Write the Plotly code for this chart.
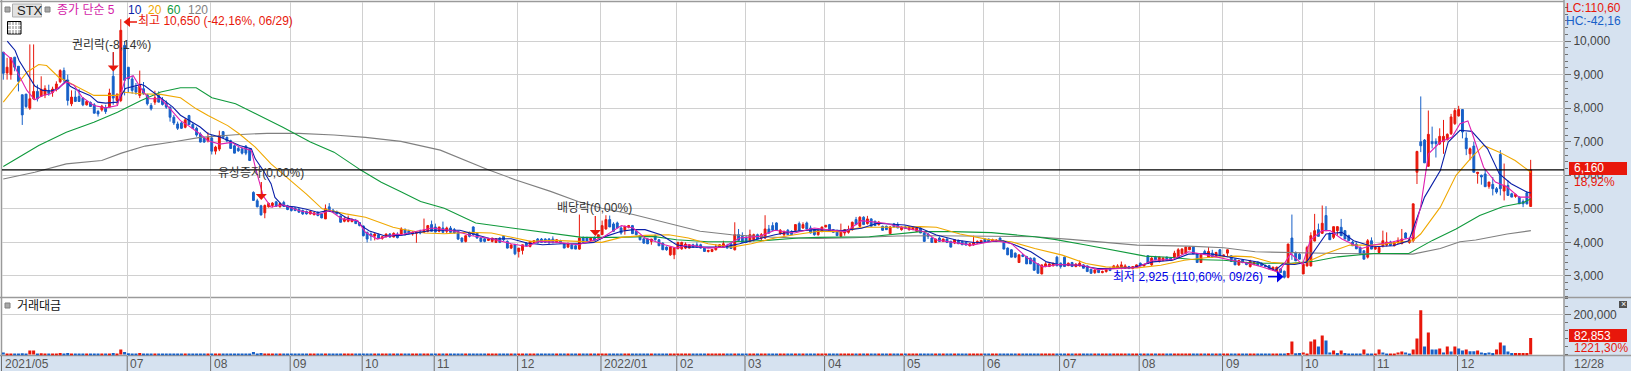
import plotly.graph_objects as go

W, H = 1631, 371
TICKER = "STX"
month_starts = [33,55,76,95,114,136,158,178,196,217,238,259,279,300,322,343,362,384]
month_labels = ["07","08","09","10","11","12","2022/01","02","03","04","05","06","07","08","09","10","11","12"]

opens = [
9670,9050,9000,9520,9250,8400,8420,8000,8280,8500,
8350,8400,8530,8470,8570,8790,9120,8840,8130,8330,
8350,8300,8100,8170,8100,7900,7950,8020,8030,8950,
8230,8230,9870,9220,8870,8630,8380,8580,8400,8080,
8180,8380,8230,8150,8030,7730,7530,7560,7430,7780,
7510,7400,7230,7100,7030,7110,6720,6780,7300,7130,
7030,6880,6800,6790,6870,6790,5490,5240,5090,4880,
5060,5100,5210,5060,5190,5090,5050,5020,4990,4950,
4920,4850,4830,4900,4850,4700,5060,4960,4900,4790,
4630,4630,4620,4640,4590,4490,4300,4250,4190,4230,4120,4170,4250,4160,
4240,4250,4380,4350,4250,4270,4320,4300,4330,4530,
4460,4330,4430,4330,4430,4380,4330,4130,4030,4280,
4460,4280,4130,4110,4060,4030,4000,4130,4180,4030,3830,
3930,3730,3760,3980,3880,4000,4100,4100,4100,4100,
4100,4000,4050,3960,3860,3930,3900,3800,4130,4140,
4060,4150,4130,4230,4400,4680,4550,4580,4430,4360,4450,
4500,4330,4200,4110,4100,4030,4200,4080,3980,3860,
3630,3630,3810,3810,3830,3830,3930,3930,3930,3830,3730,
3730,3780,3860,3860,3900,3960,3780,4230,4180,4130,
4030,4080,4230,4130,4130,4400,4500,4580,4260,4230,
4360,4330,4360,4560,4430,4580,4430,4380,4230,4330,4460,
4530,4380,4350,4180,4280,4300,4380,4680,4480,4750,
4560,4700,4630,4530,4480,4480,4260,4550,4530,4380,4460,
4380,4380,4330,4430,4280,4250,4130,4000,4130,4030,
4100,4030,3980,4060,4030,4000,3900,3930,3980,4000,
4100,4100,4030,4030,4130,4000,3830,3780,3680,3400,3630,
3580,3530,3530,3360,3060,3280,3280,3300,3560,3380,
3560,3310,3400,3280,3300,3330,3300,3200,3100,3200,3100,
3130,3230,3230,3230,3230,3230,3280,3220,3260,3380,3300,
3600,3330,3560,3430,3460,3560,3530,3560,3560,3660,
3680,3780,3860,3660,3400,3730,3560,3680,3580,3780,3600,
3680,3600,3500,3330,3480,3400,3280,3340,3410,3380,3310,
3310,3180,3140,3210,3140,2960,4130,3700,3650,3060,
3300,3300,4040,4380,4270,4800,4270,4150,4350,4450,
4350,4200,4010,3950,3850,3750,3560,4050,3800,3700,
3900,3920,4010,3900,3980,3960,4280,4000,4050,6090,
7000,7050,6270,7010,7010,6940,7000,7060,7240,7540,
7770,7960,7110,6640,6870,6050,6000,6040,5670,5730,5600,
6620,5530,5700,5450,5370,5350,5220,5480,5070]

highs = [
9670,9500,9500,9520,9250,8400,8420,9900,9900,8700,
8950,8680,8700,8640,8800,9160,9210,9000,8530,8530,
8570,8330,8220,8200,8150,7950,8100,8100,8580,9660,
8450,10650,10000,9220,8970,8750,9120,8780,8430,8150,
8520,8500,8330,8230,8050,7800,7600,7600,7700,7800,
7550,7450,7280,7130,7280,7200,6880,7330,7320,7160,
7060,6920,6850,6800,6900,6800,5520,5300,5120,5130,
5190,5200,5240,5190,5240,5120,5070,5050,5020,4980,
4950,4950,4900,4920,4870,5130,5170,5000,4950,4800,
4750,4800,4720,4700,4600,4500,4320,4300,4280,4260,4180,4260,4280,4300,
4300,4450,4420,4380,4330,4320,4380,4710,4520,4650,
4560,4460,4620,4470,4490,4430,4340,4150,4200,4320,
4480,4300,4150,4130,4120,4130,4110,4150,4200,4060,3950,
3960,3830,3930,4000,4030,4060,4130,4130,4120,4130,
4180,4100,4080,3970,4000,3950,3920,4830,4180,4170,
4130,4180,4230,4650,4810,4800,4600,4620,4480,4500,4520,
4520,4350,4220,4120,4120,4100,4230,4100,4000,3880,
3880,3850,4020,4020,4000,3950,3960,4000,3960,3850,3780,
3800,3950,3950,4050,3960,3990,4600,4400,4300,4200,
4380,4260,4260,4280,4810,4520,4600,4600,4400,4350,
4400,4360,4540,4620,4600,4620,4500,4400,4350,4460,4520,
4550,4400,4380,4560,4400,4500,4620,4760,4780,4780,
4790,4720,4650,4640,4500,4500,4490,4580,4600,4480,4500,
4490,4480,4450,4450,4310,4280,4150,4110,4180,4110,
4120,4050,4080,4080,4050,4010,3980,4200,4060,4060,
4120,4110,4110,4100,4150,4020,3850,3800,3700,3630,3650,
3600,3550,3550,3380,3340,3410,3370,3390,3600,3400,
3580,3400,3420,3380,3460,3350,3310,3210,3190,3210,3160,
3230,3250,3330,3350,3430,3350,3300,3290,3340,3400,3360,
3620,3560,3600,3580,3570,3580,3550,3750,3830,3830,
3870,3880,3880,3680,3640,3780,3860,3780,3720,3800,3640,
3790,3620,3520,3480,3500,3420,3480,3440,3430,3400,3340,
3330,3280,3280,3230,3160,3960,4830,3730,3680,3370,
3900,4300,4850,4560,5100,5080,4300,4470,4480,4700,
4370,4230,4050,4000,3880,3770,4100,4150,3880,3850,
4350,4300,4050,4020,4150,4400,4300,4110,5150,6730,
8350,7080,7930,7450,7100,7400,7650,7250,7830,8000,
8070,7960,7280,6830,7000,6100,6020,6180,5800,5950,5650,
6750,6350,5850,5480,5450,5370,5280,5520,6460]

lows = [
8850,8850,8850,9100,8500,7500,8000,7950,8250,8200,
8350,8300,8370,8340,8500,8750,8780,8080,8060,8200,
8200,8060,8080,8050,7850,7750,7900,7830,8030,8100,
8100,8180,8380,8480,8430,8400,8300,8400,8080,7930,
8100,8180,8080,7980,7600,7500,7350,7380,7400,7500,
7380,7150,6980,6970,6980,6620,6620,6720,7130,6980,
6800,6660,6700,6620,6600,6440,5240,5050,4800,4720,
5040,5040,5060,5040,5060,4960,4920,4930,4880,4820,
4830,4830,4800,4780,4720,4700,4950,4880,4830,4590,
4600,4600,4600,4550,4480,4180,4000,4050,4060,4100,4080,4150,4140,4150,
4120,4220,4200,4230,4200,3990,4240,4280,4300,4330,
4300,4300,4290,4280,4290,4270,4070,3990,4000,4150,
4200,4110,4000,4000,4040,4000,3980,3980,4040,3820,3800,
3620,3550,3640,3880,3850,3980,3980,4000,4000,3980,
3980,3980,3980,3830,3830,3800,3800,3780,4000,4030,
4040,4060,4100,4220,4380,4460,4330,4430,4230,4230,4420,
4260,4210,4060,3960,3950,3930,4050,3900,3780,3750,
3600,3500,3800,3780,3800,3820,3840,3840,3820,3730,3700,
3710,3760,3840,3850,3820,3820,3760,4060,4000,4000,
4000,4030,4100,4050,4100,4250,4360,4360,4230,4180,
4230,4220,4340,4360,4400,4400,4270,4200,4200,4300,4450,
4350,4290,4200,4160,4200,4260,4350,4530,4460,4530,
4530,4480,4500,4500,4350,4370,4250,4460,4430,4350,4400,
4350,4370,4310,4280,4030,4100,4000,3980,4030,4010,
3980,3850,3950,3950,3920,3910,3880,3900,3960,3990,
4030,4030,4020,4010,4030,3800,3620,3560,3530,3390,3560,
3360,3360,3160,3080,3050,3260,3270,3290,3300,3220,
3280,3290,3280,3260,3280,3230,3130,3060,3060,3090,3080,
3100,3150,3210,3220,3200,3210,3220,3200,3250,3300,3280,
3370,3300,3480,3400,3440,3460,3460,3540,3540,3640,
3650,3770,3660,3400,3390,3660,3550,3560,3560,3600,3560,
3560,3430,3330,3300,3380,3320,3250,3320,3310,3300,3260,
3200,3160,3100,3090,2925,2930,3480,3450,3500,3060,
3280,3280,4030,4180,4250,4350,4080,4100,4200,4200,
4100,4050,3900,3800,3650,3500,3520,3800,3780,3680,
3850,3880,3890,3880,3960,3950,4100,3960,4000,5740,
6690,6370,6250,6800,6530,6900,6640,7040,7200,7500,
7750,7100,6600,6450,6090,5750,5720,5660,5600,5400,5450,
5400,5250,5400,5350,5330,5150,5050,5130,5070]

closes = [
9040,9220,9500,9220,8800,7800,8050,8280,8500,8280,
8560,8580,8440,8570,8720,9120,8840,8230,8330,8200,
8200,8100,8200,8050,7850,7830,8060,7900,8450,8300,
8400,10320,8830,8870,8530,8480,8680,8430,8130,7980,
8310,8180,8110,8030,7730,7560,7400,7400,7650,7510,
7400,7200,6990,6990,7130,6720,6840,7180,7130,7030,
6800,6660,6730,6660,6660,6440,5250,5060,4820,5100,
5160,5170,5080,5160,5080,4980,4950,4950,4900,4850,
4850,4920,4880,4800,4730,5000,4970,4900,4850,4600,
4700,4720,4680,4560,4500,4200,4100,4190,4250,4120,4170,4250,4160,4270,
4140,4400,4280,4270,4300,4310,4280,4360,4500,4330,
4310,4460,4300,4430,4300,4280,4100,4030,4200,4180,
4230,4130,4030,4030,4100,4130,4110,4000,4080,3830,3920,
3660,3830,3930,3900,4030,4050,3980,4000,4000,3980,
3990,4080,3980,3830,3960,3810,3800,4130,4000,4030,
4130,4060,4230,4500,4680,4460,4330,4430,4280,4480,4500,
4260,4230,4080,3980,3960,4100,4080,3900,3780,3780,
3860,3830,4000,4000,3950,3930,3860,3860,3830,3730,3760,
3790,3860,3930,3960,3830,3820,4230,4060,4000,4000,
4230,4230,4100,4230,4400,4280,4360,4360,4360,4330,
4230,4230,4530,4360,4530,4400,4280,4230,4350,4460,4510,
4350,4300,4200,4350,4380,4380,4600,4530,4750,4530,
4700,4480,4500,4600,4360,4380,4460,4460,4430,4460,4420,
4460,4460,4430,4280,4030,4180,4000,4100,4030,4100,
4000,3860,4080,3960,3930,3920,3960,4000,4030,4060,
4030,4030,4080,4060,4030,3800,3630,3560,3560,3630,3580,
3360,3360,3170,3080,3330,3360,3360,3380,3300,3280,
3280,3380,3280,3350,3380,3230,3130,3080,3180,3100,3130,
3200,3160,3300,3300,3330,3300,3220,3280,3330,3300,3340,
3370,3530,3480,3560,3530,3460,3460,3680,3780,3800,
3860,3860,3660,3400,3630,3660,3730,3560,3700,3600,3620,
3780,3430,3330,3460,3400,3340,3440,3410,3310,3310,3280,
3210,3260,3260,3100,2960,3950,3700,3450,3500,3350,
3850,4200,4350,4180,4570,4350,4080,4470,4470,4200,
4100,4050,3900,3810,3650,3500,4050,3800,3860,3850,
4050,4010,3910,4000,4060,4100,4130,4080,5150,6710,
6880,6370,7220,6940,6940,7160,7160,7220,7740,7930,
7960,7290,6790,6790,6090,6090,5950,5660,5800,5600,5500,
5600,5700,5400,5350,5430,5150,5150,5150,6160]

turnover = [
10000,2500,2000,2500,2000,6000,2500,20000,20000,3000,
6000,2000,2500,2000,2500,8000,2500,8000,2500,2000,
2000,2500,2000,2500,2000,2500,2000,2500,3000,8000,
3000,25000,13000,6000,2500,2000,8000,2500,2000,2500,
2500,2000,2500,2000,2500,2000,2000,2500,2000,2500,
2000,2500,2000,2500,2000,2500,2000,2500,2000,2000,
2500,2000,2500,2000,2500,2000,13000,2500,8000,2500,
2000,2500,2000,2000,2500,2000,2500,2000,2000,2500,
2000,2500,2000,2500,2000,2000,2500,2000,2500,2000,
2000,2500,2000,2500,2000,2500,2000,2000,2500,2000,
2500,2000,2500,2000,2000,2500,2000,2500,2000,2500,
2000,2000,2500,2000,2500,2000,2500,2000,2000,2500,
2000,2500,2000,2500,2000,2000,2500,2000,2500,2000,
2500,2000,2000,2500,2000,2500,2000,2500,2000,2000,
2500,2000,2500,2000,2500,2000,2000,2500,2000,2500,
2000,2500,2000,2000,2500,2000,2500,2000,2500,2000,
2000,2500,2000,2500,2000,2500,2000,2000,2500,2000,
2500,2000,2500,2000,2000,2500,2000,2500,2000,2500,
2000,2000,2500,2000,2500,2000,2500,2000,2000,2500,
2000,2500,2000,2500,2000,2000,2500,2000,2500,2000,
2500,2000,2000,2500,2000,2500,2000,2500,2000,2000,
2500,2000,2500,2000,2500,2000,2000,2500,2000,2500,
2000,2500,2000,2000,2500,2000,2500,2000,2500,2000,
2000,2500,2000,2500,2000,2500,2000,2000,2500,2000,
2500,2000,2500,2000,2000,2500,2000,2500,2000,2500,
2000,2000,2500,2000,2500,2000,2500,2000,2000,2500,
2000,2500,2000,2500,2000,2000,2500,2000,2500,2000,
2500,2000,2000,2500,2000,2500,2000,2500,2000,2000,
2500,2000,2500,2000,2500,2000,2000,2500,2000,2500,
2000,2500,2000,2000,2500,2000,2500,2000,2500,2000,
2000,2500,2000,2500,2000,2500,2000,2000,2500,2000,
2500,2000,2500,2000,2000,2500,2000,2500,2000,2500,
3000,3000,2500,3000,4000,3000,3000,4000,3000,2500,
2000,2500,3000,2500,3000,4000,3000,3000,3000,
8000,65000,6000,8000,10000,4000,65000,75000,40000,95000,
70000,10000,20000,8000,20000,8000,4000,4000,4000,3000,
25000,5000,3000,3000,25000,10000,4000,3000,4000,10000,
15000,10000,4000,25000,80000,220000,40000,110000,25000,25000,
30000,10000,40000,15000,40000,30000,20000,25000,16000,16000,
20000,10000,8000,10000,8000,25000,60000,45000,15000,8000,
8000,8000,8000,8000,82853]

# colour of the last 65 turnover bars: R up, B down
turnover_tail_sign = list(
    "RRBBRRRRBR"
    "BBRBRBBBBB"
    "RBBRRBBRRR"
    "RBBRRRBRBB"
    "RBRBRBBRBB"
    "RBBBBRRBBB"
    "RRRRR")

ma5_days = [0,2,4,6,8,10,12,14,16,18,20,23,26,29,31,33,35,37,40,42,45,47,50,52,55,58,60,63,64,66,68,71,75,80,83,86,90,92,95,100,
101,105,109,115,119,124,129,133,136,141,146,152,157,160,163,168,171,174,179,183,187,192,196,201,206,
210,214,218,224,229,234,237,243,246,252,256,260,264,268,274,278,283,288,292,297,301,306,312,
317,320,324,327,330,332,335,337,340,345,348,353,358,360,362,365,368,370,372,373,376,379,382,385,388]
ma5_vals = [9670,9470,8970,8530,8250,8380,8430,8610,8780,8680,8330,8080,8010,8080,8880,8970,8580,8280,8280,8030,7630,7480,7230,7030,6930,6980,6840,6740,6240,5390,5050,5120,4950,4830,4950,4700,4650,4300,4100,4250,
4230,4330,4430,4330,4200,4110,3960,3880,4030,4000,3930,4130,4500,4430,4130,3930,3830,3930,3830,3860,4130,4180,4360,4280,4430,
4370,4320,4650,4570,4420,4320,4070,3970,3920,4050,3970,3550,3270,3340,3320,3190,3210,3250,3470,3490,3720,3620,3470,
3360,3260,3110,3670,3340,4070,4350,4350,4100,3820,3920,4020,4150,5050,6640,6990,7140,7540,7620,7290,6240,5800,5650,5350,5350]

ma10_days = [1,3,4,6,8,10,12,14,16,17,19,22,24,26,29,31,33,35,36,39,41,43,45,47,50,52,55,58,60,63,64,66,68,69,71,74,77,80,82,85,87,90,91,93,97,
101,105,109,116,120,124,129,133,137,142,146,150,153,157,160,163,167,171,174,179,183,187,191,196,201,206,
213,218,222,229,233,237,242,247,254,257,261,265,268,273,278,282,287,292,297,301,306,312,
314,319,323,325,328,331,336,340,343,348,353,357,361,365,367,370,373,377,380,383,387,388]
ma10_vals = [10000,9720,9420,9020,8660,8530,8510,8580,8830,8650,8530,8380,8180,8150,8180,8590,8660,8710,8660,8390,8230,8040,7790,7640,7440,7240,7140,6990,6890,6790,6490,6150,5750,5340,5090,5060,4990,4890,4940,4890,4740,4640,4490,4340,4190,
4210,4280,4360,4360,4230,4100,4110,3980,3930,3960,3960,4000,4180,4330,4380,4380,4230,3930,3860,3860,3860,3960,4080,4230,4330,4380,
4350,4420,4570,4520,4420,4220,4070,3990,4050,3920,3720,3420,3340,3320,3220,3220,3250,3420,3470,3650,3670,3550,
3515,3410,3160,3360,3340,3410,4250,4300,4050,3870,3900,4050,5350,6140,6990,7340,7310,6790,6040,5750,5500,5470]

ma20_days = [0,3,6,9,11,14,18,23,29,30,35,40,45,49,52,57,60,64,68,72,77,81,87,92,99,
101,107,112,118,124,130,134,140,146,152,157,163,169,174,179,185,190,196,201,207,
213,218,226,233,237,243,250,256,262,269,275,280,288,294,300,306,313,
317,322,327,331,336,342,348,358,360,365,369,373,376,380,384,388]
ma20_vals = [8180,8630,9070,9300,9270,8930,8680,8380,8380,8480,8430,8410,8310,7980,7780,7480,7230,6840,6340,5940,5440,5000,4850,4750,4450,
4400,4280,4260,4300,4280,4130,4030,4060,4020,4000,4150,4210,4230,4130,3960,3860,3960,4130,4230,4330,
4320,4450,4450,4470,4450,4250,4090,4020,3820,3620,3370,3270,3240,3320,3470,3550,3590,
3570,3410,3360,3410,3670,3920,3920,4050,4250,5050,6000,6540,6890,6690,6440,6090]

ma60_days = [0,4,9,16,23,29,35,40,45,49,53,59,65,71,78,84,91,96,101,106,112,120,126,135,141,147,156,165,171,179,185,194,202,207,
220,227,233,241,251,262,267,275,284,290,297,302,310,318,327,333,339,348,357,363,369,375,381,386,388]
ma60_vals = [6260,6540,6890,7280,7580,7880,8230,8480,8610,8610,8310,8130,7780,7430,6990,6690,6140,5790,5510,5220,5020,4580,4480,4330,4230,4150,4150,4180,4080,4020,4020,4060,4130,4150,
4170,4250,4320,4320,4290,4170,4090,3920,3720,3590,3550,3490,3470,3380,3380,3440,3570,3670,3670,4060,4400,4800,5070,5180,5300]

ma120_days = [0,8,16,25,30,36,43,50,59,67,75,84,92,101,111,123,130,139,146,152,160,169,177,185,194,202,207,
216,227,237,251,262,271,279,288,301,310,318,327,339,358,365,370,374,382,388]
ma120_vals = [5890,6090,6340,6440,6660,6870,6990,7130,7210,7250,7250,7200,7130,7010,6750,6170,5870,5520,5220,5020,4830,4560,4330,4230,4160,4130,4120,
4140,4190,4200,4190,4170,4090,4020,3920,3890,3840,3720,3690,3670,3650,3820,4020,4070,4250,4350]

for name, arr in [("highs",highs),("lows",lows),("closes",closes),("turnover",turnover)]:
    if len(arr) != len(opens):
        raise SystemExit(f"{name} has {len(arr)} entries, opens has {len(opens)}")
for d, v in [(ma5_days,ma5_vals),(ma10_days,ma10_vals),(ma20_days,ma20_vals),(ma60_days,ma60_vals),(ma120_days,ma120_vals)]:
    if len(d) != len(v):
        raise SystemExit(f"MA node mismatch {len(d)} {len(v)} {d[:3]}")

RED, BLUE = "#E8170B", "#1760C8"
BAND = "#D6E2F0"
GRID = "#D0D0D0"
FRAME = "#9A9A9A"
FONT = "Liberation Sans, Noto Sans CJK KR, sans-serif"
STEP = 3.79            # pixels per trading day
FIRST = 3.3            # pixel of the first candle
LEFT, RIGHT = 2, 1564  # plot edges in pixels
NODE_SCALE = 3.937 / STEP  # MA nodes were read on a 3.937 px grid

days = list(range(len(closes)))
px = lambda x: x / W
py = lambda y: 1 - y / H
xrange_ = [(LEFT - FIRST) / STEP, (RIGHT - FIRST) / STEP]

head_n = len(turnover) - len(turnover_tail_sign)
bar_colors = [RED if c >= o else BLUE for o, c in zip(opens[:head_n], closes[:head_n])]
bar_colors += [RED if s == "R" else BLUE for s in turnover_tail_sign]

fig = go.Figure()
fig.add_trace(go.Candlestick(
    x=days, open=opens, high=highs, low=lows, close=closes, xaxis="x", yaxis="y",
    increasing=dict(line=dict(color=RED, width=1), fillcolor=RED),
    decreasing=dict(line=dict(color=BLUE, width=1), fillcolor=BLUE),
    whiskerwidth=0, showlegend=False, hoverinfo="skip"))
for d, v, c in [(ma120_days, ma120_vals, "#808080"), (ma60_days, ma60_vals, "#109A3C"),
                (ma20_days, ma20_vals, "#F0A800"), (ma10_days, ma10_vals, "#0A1FA8"),
                (ma5_days, ma5_vals, "#E020B0")]:
    fig.add_trace(go.Scatter(x=[k * NODE_SCALE for k in d], y=v, mode="lines", xaxis="x", yaxis="y",
                             line=dict(color=c, width=1.1), showlegend=False, hoverinfo="skip"))
fig.add_trace(go.Bar(x=days, y=turnover, xaxis="x2", yaxis="y2", showlegend=False, hoverinfo="skip",
                     marker=dict(color=bar_colors, line=dict(width=0))))

shapes = []
def rect(x0, y0, x1, y1, fill, line=None, layer="below", lw=1):
    shapes.append(dict(type="rect", xref="paper", yref="paper", x0=px(x0), x1=px(x1), y0=py(y1), y1=py(y0),
                       fillcolor=fill, line=dict(color=line or fill, width=lw if line else 0), layer=layer))
def seg(x0, y0, x1, y1, color, lw=1, layer="below"):
    shapes.append(dict(type="line", xref="paper", yref="paper", x0=px(x0), x1=px(x1), y0=py(y0), y1=py(y1),
                       line=dict(color=color, width=lw), layer=layer))
def tri(points, color):
    path = "M " + " L ".join(f"{px(a)},{py(b)}" for a, b in points) + " Z"
    shapes.append(dict(type="path", xref="paper", yref="paper", path=path, fillcolor=color,
                       line=dict(color=color, width=0), layer="above"))

rect(RIGHT, 0, W, H, BAND)
rect(0, 355.5, W, H, BAND)
seg(0, 1.5, RIGHT, 1.5, FRAME, 1.5)
seg(1.5, 0, 1.5, 355, FRAME, 1.5)
seg(RIGHT, 0, RIGHT, 356, FRAME, 1.5)
seg(0, 297.5, W, 297.5, FRAME, 1.5)
seg(0, 355.5, W, 355.5, FRAME, 1.5)
seg(RIGHT, 356, RIGHT, H, "#707070", 1)
seg(1.5, 356, 1.5, H, "#707070", 1)
for m in month_starts:
    shapes.append(dict(type="line", xref="x", yref="paper", x0=m - 0.3, x1=m - 0.3, y0=0, y1=py(356),
                       line=dict(color="#707070", width=1), layer="below"))
shapes.append(dict(type="line", xref="paper", yref="y", x0=px(LEFT), x1=px(RIGHT), y0=closes[-1], y1=closes[-1],
                   line=dict(color="#000000", width=1.2), layer="above"))

# price flags
rect(1569, 162, 1627, 175, RED, layer="above")
rect(1569, 329, 1627, 342, RED, layer="above")
rect(1619, 301, 1627, 308, "#505050", layer="above")
# header glyphs
rect(5, 7, 10, 12, "#A8A8A8", "#808080")
rect(45, 7, 50, 12, "#A8A8A8", "#808080")
rect(12.5, 4, 41.5, 17, "#E2E2E2", "#B0B0B0")
rect(7.5, 21.5, 21, 34, "#C0C0C0", "#000000", layer="above")
for yy in (25.5, 29.5):
    seg(8, yy, 20.5, yy, "#FFFFFF", 1, "above")
for xx in (11.5, 14.5, 17.5):
    seg(xx, 22, xx, 33.5, "#FFFFFF", 1, "above")
rect(5, 303, 10, 308, "#A8A8A8", "#808080")

# event arrows
for cx, y0, y1, y2 in [(113.3, 52, 65.5, 71.5), (261.3, 182, 194, 200), (595.3, 216, 230, 236)]:
    seg(cx, y0, cx, y1, RED, 1.2, "above")
    tri([(cx - 5.5, y1), (cx + 5.5, y1), (cx, y2)], RED)
seg(130, 22, 137, 22, RED, 1.5, "above")
tri([(123.5, 22), (130, 17), (130, 27)], RED)
seg(1268, 276.7, 1277, 276.7, "#0000E8", 1.5, "above")
tri([(1283.5, 276.7), (1277, 271), (1277, 282.5)], "#0000E8")

ann = []
def text(x, y, s, color, size=12, anchor="left"):
    ann.append(dict(text=s, xref="paper", yref="paper", x=px(x), y=py(y), xanchor=anchor, yanchor="middle",
                    showarrow=False, font=dict(family=FONT, size=size, color=color), borderpad=0))
text(15.5, 10.5, TICKER, "#222222", 13)
text(56, 10.5, "종가 단순 5", "#D41DA8")
text(127, 10.5, "10", "#0A1FA8")
text(147, 10.5, "20", "#F0A800")
text(166, 10.5, "60", "#109A3C")
text(187, 10.5, "120", "#808080")
text(137, 21.5, "최고 10,650 (-42,16%, 06/29)", RED)
text(71, 45, "권리락(-8,14%)", "#333333")
text(217, 173, "유상증자(0,00%)", "#333333")
text(556, 208, "배당락(0,00%)", "#333333")
text(1112, 276.5, "최저 2,925 (110,60%, 09/26)", "#0000E8")
text(16, 306, "거래대금", "#111111")
text(1565, 8, "LC:110,60", RED)
text(1565, 21, "HC:-42,16", BLUE)
text(1573, 168, f"{closes[-1]:,}", "#FFFFFF")
text(1573, 181.5, "18,92%", RED)
text(1573, 335.5, f"{turnover[-1]:,}", "#FFFFFF")
text(1573, 348, "1221,30%", RED)
text(1623, 304.3, "×", "#FFFFFF", 9, "center")
text(3.5, 363.5, "2021/05", "#555555")
text(1573, 363.5, "12/28", "#555555")
for m, lab in zip(month_starts, month_labels):
    ann.append(dict(text=lab, xref="x", yref="paper", x=m - 0.3, y=py(363.5), xanchor="left", yanchor="middle",
                    xshift=1, showarrow=False, font=dict(family=FONT, size=12, color="#555555")))

tick_font = dict(family=FONT, size=12, color="#444444")
grid_x = dict(tickmode="array", tickvals=[m - 0.3 for m in month_starts], ticktext=[""] * len(month_starts),
              showgrid=True, gridcolor=GRID, gridwidth=1, zeroline=False, showline=False, ticks="",
              range=xrange_, domain=[px(LEFT), px(RIGHT)], showticklabels=False)
fig.update_layout(
    width=W, height=H, margin=dict(l=0, r=0, t=0, b=0), autosize=False,
    paper_bgcolor="#FFFFFF", plot_bgcolor="#FFFFFF", showlegend=False, boxgap=0.3, bargap=0.2,
    shapes=shapes, annotations=ann, hovermode=False,
    xaxis=dict(anchor="y", rangeslider=dict(visible=False), **grid_x),
    xaxis2=dict(anchor="y2", **grid_x),
    yaxis=dict(anchor="x", side="right", domain=[py(297.5), py(2)], range=[2358, 11164],
               tickmode="array", tickvals=[3000,4000,5000,6000,7000,8000,9000,10000], tickformat=",",
               ticks="outside", ticklen=6, tickcolor="#707070", tickfont=tick_font,
               minor=dict(ticks="outside", ticklen=3, dtick=200, tick0=0, tickcolor="#707070", showgrid=False),
               showgrid=True, gridcolor=GRID, gridwidth=1, zeroline=False, showline=False),
    yaxis2=dict(anchor="x2", side="right", domain=[py(355.5), py(297.5)], range=[-4900, 284000],
                tickmode="array", tickvals=[200000], tickformat=",",
                ticks="outside", ticklen=6, tickcolor="#707070", tickfont=tick_font,
                minor=dict(ticks="outside", ticklen=3, dtick=40000, tick0=0, tickcolor="#707070", showgrid=False),
                showgrid=True, gridcolor=GRID, gridwidth=1, zeroline=False, showline=False),
)
fig.write_html("out.html", config=dict(displayModeBar=False),
               post_script="document.body.style.margin='0';document.documentElement.style.overflow='hidden';")
